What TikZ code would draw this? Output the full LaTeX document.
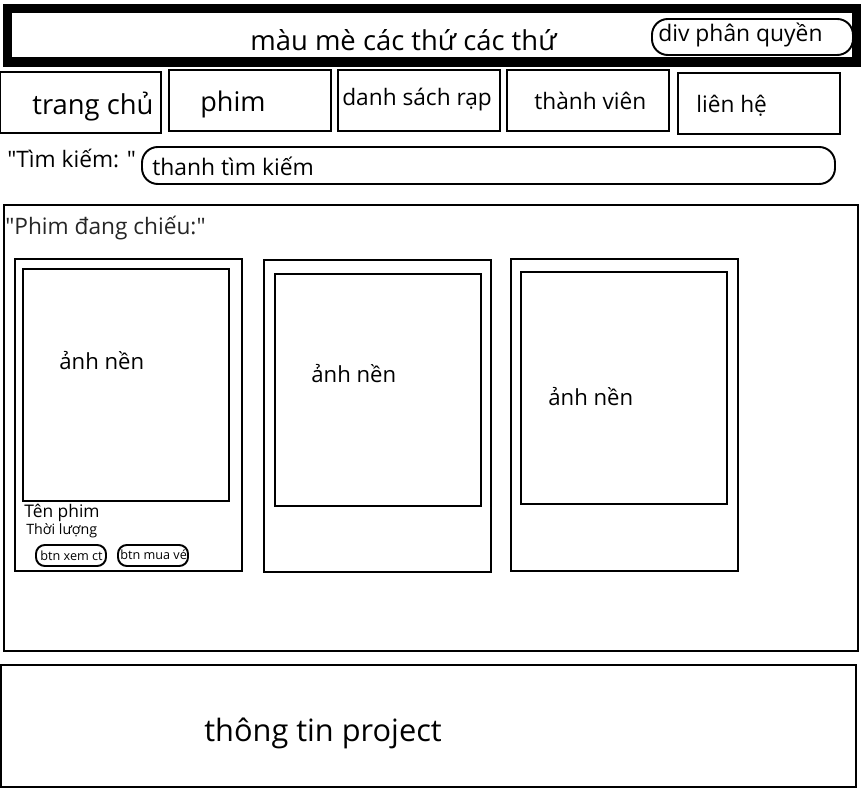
\documentclass[tikz,border=0pt]{standalone}
\usepackage{fontspec}
\setmainfont{Open Sans}
\tikzset{
  box/.style={draw,line width=1.1pt},
  pill/.style={draw,line width=1.1pt,rounded corners=9pt},
  lbl/.style={anchor=west,inner sep=0pt}
}
\newcommand{\fs}[1]{\fontsize{#1}{1.2\dimexpr#1pt\relax}\selectfont}
\begin{document}
\begin{tikzpicture}[x=0.02cm,y=-0.02cm]
        \useasboundingbox (0,0) rectangle (862,803);
        % header
        \draw[line width=5.3pt] (7.5,8.5) rectangle (856.5,62);
        \node[lbl] (title) at (250,40) {\fs{15.6}màu mè các thứ các thứ};
        \draw[pill] (652,19) rectangle (853,55);
        \node[lbl] (role) at (658,35) {\fs{13}div phân quyền};
        % menu
        \draw[box] (0,72) rectangle (161,133);
        \draw[box] (169,70) rectangle (331,131);
        \draw[box] (338,70) rectangle (500,131);
        \draw[box] (507,70) rectangle (669,131);
        \draw[box] (678,73) rectangle (840,134);
        \node[lbl] (home) at (32,107) {\fs{15.6}trang chủ};
        \node[lbl] (film) at (200,104) {\fs{15.4}phim};
        \node[lbl] (cinema) at (342,100) {\fs{12.9}danh sách rạp};
        \node[lbl] (member) at (534,101) {\fs{12.9}thành viên};
        \node[lbl] (contact) at (696,106) {\fs{12.9}liên hệ};
        % search
        \node[lbl] (search) at (7,158) {\fs{12.9}\textquotedbl Tìm kiếm: \textquotedbl};
        \draw[pill] (142,147) rectangle (835,184);
        \node[lbl] (searchbar) at (152,166) {\fs{13}thanh tìm kiếm};
        % now showing
        \draw[box] (4,205) rectangle (858,651);
        \node[lbl,text=black!85] (showing) at (5,228) {\fs{12.9}\textquotedbl Phim đang chiếu:\textquotedbl};
        \draw[box] (15,259) rectangle (242,571);
        \draw[box] (23,269) rectangle (229,501);
        \node[lbl] (bg1) at (59,361) {\fs{12.6}ảnh nền};
        \node[lbl] (name) at (24,513) {\fs{9.9}Tên phim};
        \node[lbl] (length) at (26,531) {\fs{8.1}Thời lượng};
        \draw[pill,rounded corners=5pt] (36,545) rectangle (106,566);
        \node[lbl] (detail) at (40,556) {\fs{7.2}btn xem ct};
        \draw[pill,rounded corners=5pt] (118,545) rectangle (188,566);
        \node[lbl] (buy) at (120,555) {\fs{7.2}btn mua vé};
        \draw[box] (264,260) rectangle (491,572);
        \draw[box] (275,274) rectangle (481,506);
        \node[lbl] (bg2) at (311,374) {\fs{12.6}ảnh nền};
        \draw[box] (511,259) rectangle (738,571);
        \draw[box] (521,272) rectangle (727,504);
        \node[lbl] (bg3) at (548,397) {\fs{12.6}ảnh nền};
        % footer
        \draw[box] (1,665) rectangle (856,787);
        \node[lbl] (info) at (204,733) {\fs{17.5}thông tin project};
    \end{tikzpicture}
\end{document}
